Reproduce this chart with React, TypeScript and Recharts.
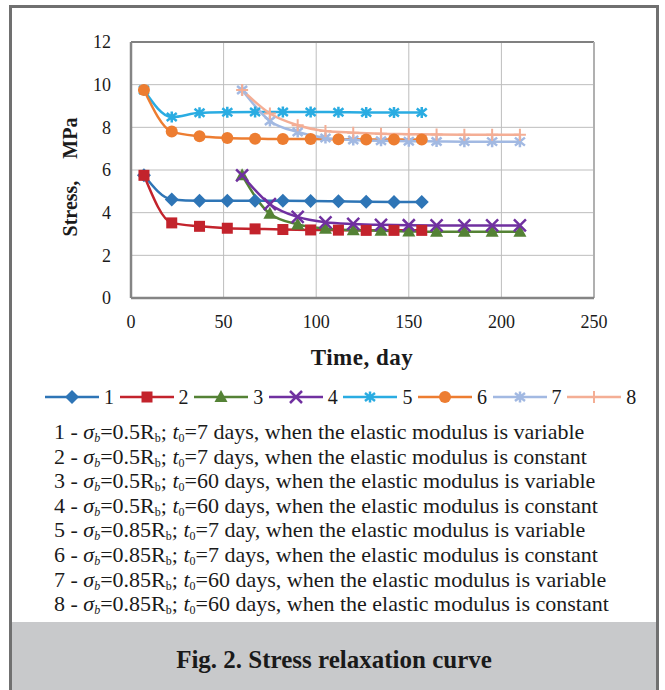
import React from "react";
import {
  LineChart,
  Line,
  XAxis,
  YAxis,
  CartesianGrid,
  ReferenceLine,
} from "recharts";

// times of observation (days)
const daysFrom7 = [7, 22, 37, 52, 67, 82, 97, 112, 127, 142, 157];
const daysFrom60 = [60, 75, 90, 105, 120, 135, 150, 165, 180, 195, 210];

// stress values, MPa
const s1 = [5.75, 4.62, 4.56, 4.56, 4.56, 4.56, 4.55, 4.53, 4.51, 4.5, 4.5];
const s2 = [5.75, 3.52, 3.36, 3.27, 3.24, 3.21, 3.19, 3.18, 3.17, 3.17, 3.17];
const s3 = [5.75, 3.95, 3.45, 3.25, 3.18, 3.15, 3.12, 3.1, 3.1, 3.1, 3.1];
const s4 = [5.75, 4.4, 3.8, 3.55, 3.47, 3.43, 3.41, 3.4, 3.4, 3.4, 3.4];
const s5 = [9.75, 8.48, 8.68, 8.71, 8.72, 8.72, 8.72, 8.71, 8.7, 8.7, 8.7];
const s6 = [9.75, 7.8, 7.58, 7.5, 7.47, 7.45, 7.45, 7.44, 7.43, 7.43, 7.43];
const s7 = [9.75, 8.3, 7.78, 7.5, 7.41, 7.37, 7.35, 7.34, 7.33, 7.33, 7.33];
const s8 = [9.75, 8.65, 8.1, 7.83, 7.75, 7.7, 7.68, 7.66, 7.65, 7.65, 7.65];

const xTicks = [0, 50, 100, 150, 200, 250];
const yTicks = [0, 2, 4, 6, 8, 10, 12];

const seriesNames = ["1", "2", "3", "4", "5", "6", "7", "8"];
const seriesColors = [
  "#2E75B6",
  "#C3232C",
  "#548235",
  "#7030A0",
  "#2AACE2",
  "#ED7D31",
  "#A2B9E2",
  "#F4AE95",
];
const seriesShapes = [
  "diamond",
  "square",
  "triangle",
  "x",
  "star",
  "circle",
  "star",
  "plus",
];

// legend text pieces
const stressLevels = ["0.5", "0.5", "0.5", "0.5", "0.85", "0.85", "0.85", "0.85"];
const loadAges = ["7 days", "7 days", "60 days", "60 days", "7 day", "7 days", "60 days", "60 days"];
const modulusKinds = ["variable", "constant", "variable", "constant", "variable", "constant", "variable", "constant"];

const toPoints = (days: number[], vals: number[]) =>
  days.map((d, i) => ({ x: d, y: vals[i] }));

const seriesData = [
  toPoints(daysFrom7, s1),
  toPoints(daysFrom7, s2),
  toPoints(daysFrom60, s3),
  toPoints(daysFrom60, s4),
  toPoints(daysFrom7, s5),
  toPoints(daysFrom7, s6),
  toPoints(daysFrom60, s7),
  toPoints(daysFrom60, s8),
];

const FONT = '"Liberation Serif", "Times New Roman", serif';

function Marker({ cx, cy, shape, color }: any) {
  if (cx == null || cy == null) return null;
  switch (shape) {
    case "diamond":
      return (
        <path
          d={`M${cx} ${cy - 7}L${cx + 7} ${cy}L${cx} ${cy + 7}L${cx - 7} ${cy}Z`}
          fill={color}
        />
      );
    case "square":
      return <rect x={cx - 5.5} y={cy - 5.5} width={11} height={11} fill={color} />;
    case "triangle":
      return (
        <path
          d={`M${cx} ${cy - 7}L${cx + 6.5} ${cy + 5}L${cx - 6.5} ${cy + 5}Z`}
          fill={color}
        />
      );
    case "circle":
      return <circle cx={cx} cy={cy} r={6} fill={color} />;
    case "x":
      return (
        <path
          d={`M${cx - 6} ${cy - 6}L${cx + 6} ${cy + 6}M${cx + 6} ${cy - 6}L${cx - 6} ${cy + 6}`}
          stroke={color}
          strokeWidth={2.5}
        />
      );
    case "star":
      return (
        <path
          d={`M${cx - 5} ${cy - 4}L${cx + 5} ${cy + 4}M${cx + 5} ${cy - 4}L${cx - 5} ${cy + 4}M${cx} ${cy - 5.5}L${cx} ${cy + 5.5}`}
          stroke={color}
          strokeWidth={2.5}
        />
      );
    case "plus":
      return (
        <path
          d={`M${cx - 6} ${cy}L${cx + 6} ${cy}M${cx} ${cy - 6}L${cx} ${cy + 6}`}
          stroke={color}
          strokeWidth={2}
        />
      );
    default:
      return null;
  }
}

function LegendRow() {
  return (
    <div style={{ position: "absolute", top: 387, left: 45, height: 20 }}>
      {seriesNames.map((name, i) => (
        <div
          key={name}
          style={{
            position: "absolute",
            left: i * 74.6,
            top: 0,
            display: "flex",
            alignItems: "center",
            whiteSpace: "nowrap",
          }}
        >
          <svg width={54} height={20}>
            <line x1={0} y1={10} x2={54} y2={10} stroke={seriesColors[i]} strokeWidth={2.5} />
            <Marker cx={27} cy={10} shape={seriesShapes[i]} color={seriesColors[i]} />
          </svg>
          <span style={{ marginLeft: 5, fontSize: 20, lineHeight: "20px" }}>{name}</span>
        </div>
      ))}
    </div>
  );
}

const subStyle: React.CSSProperties = {
  fontSize: 12,
  lineHeight: 0,
  verticalAlign: "-3px",
};

function Descriptions() {
  return (
    <div style={{ position: "absolute", left: 54, top: 420, fontSize: 22 }}>
      {seriesNames.map((name, i) => (
        <div key={name} style={{ whiteSpace: "nowrap", height: 24.6, lineHeight: "24.6px" }}>
          {name} - <i>σ</i>
          <span style={{ ...subStyle, fontStyle: "italic" }}>b</span>={stressLevels[i]}R
          <span style={subStyle}>b</span>; <i>t</i>
          <span style={subStyle}>0</span>={loadAges[i]}, when the elastic modulus is{" "}
          {modulusKinds[i]}
        </div>
      ))}
    </div>
  );
}

export default function App() {
  return (
    <div
      style={{
        position: "absolute",
        left: 0,
        top: 0,
        width: 665,
        height: 690,
        overflow: "hidden",
        background: "#fff",
        fontFamily: FONT,
        color: "#1a1a1a",
      }}
    >
      {/* caption band */}
      <div
        style={{
          position: "absolute",
          left: 9,
          top: 622,
          width: 650,
          height: 80,
          background: "#C8C9CB",
        }}
      />
      <div
        style={{
          position: "absolute",
          left: 9,
          top: 645,
          width: 650,
          textAlign: "center",
          fontSize: 25,
          fontWeight: "bold",
          lineHeight: "30px",
        }}
      >
        Fig. 2. Stress relaxation curve
      </div>
      {/* outer frame */}
      <div
        style={{
          position: "absolute",
          left: 9,
          top: 5,
          width: 650,
          height: 700,
          border: "3px solid #707070",
          boxSizing: "border-box",
        }}
      />

      <div style={{ position: "absolute", left: 0, top: 0 }}>
        <LineChart
          width={665}
          height={340}
          margin={{ top: 42, right: 71, bottom: 12, left: 91 }}
        >
          <CartesianGrid stroke="#BDBDBD" strokeWidth={1} />
          <XAxis
            type="number"
            dataKey="x"
            domain={[0, 250]}
            ticks={xTicks}
            allowDataOverflow
            height={30}
            tickLine={false}
            tickSize={0}
            tickMargin={17}
            axisLine={{ stroke: "#858585", strokeWidth: 2.5 }}
            tick={{ fontSize: 18, fill: "#1a1a1a", fontFamily: FONT }}
          />
          <YAxis
            type="number"
            dataKey="y"
            domain={[0, 12]}
            ticks={yTicks}
            width={40}
            tickLine={false}
            tickSize={0}
            tickMargin={20}
            axisLine={{ stroke: "#858585", strokeWidth: 2.5 }}
            tick={{ fontSize: 18, fill: "#1a1a1a", fontFamily: FONT }}
          />
          <ReferenceLine y={12} stroke="#808080" strokeWidth={2} />
          <ReferenceLine x={250} stroke="#B0B0B0" strokeWidth={2} />
          {seriesData.map((pts, i) => (
            <Line
              key={seriesNames[i]}
              data={pts}
              dataKey="y"
              name={seriesNames[i]}
              type="monotone"
              stroke={seriesColors[i]}
              strokeWidth={2.5}
              isAnimationActive={false}
              dot={(p: any) => (
                <Marker
                  key={`${i}-${p.index}`}
                  cx={p.cx}
                  cy={p.cy}
                  shape={seriesShapes[i]}
                  color={seriesColors[i]}
                />
              )}
              activeDot={false}
            />
          ))}
        </LineChart>
      </div>

      {/* axis titles */}
      <div
        style={{
          position: "absolute",
          left: 70,
          top: 177,
          transform: "translate(-50%, -50%) rotate(-90deg)",
          fontSize: 20,
          fontWeight: "bold",
          whiteSpace: "nowrap",
        }}
      >
        <span>Stress,</span>
        <span style={{ marginLeft: 22 }}>MPa</span>
      </div>
      <div
        style={{
          position: "absolute",
          left: 362,
          top: 358,
          transform: "translate(-50%, -50%)",
          fontSize: 23,
          fontWeight: "bold",
          letterSpacing: 0.5,
          whiteSpace: "nowrap",
        }}
      >
        Time, day
      </div>

      <LegendRow />
      <Descriptions />
    </div>
  );
}
